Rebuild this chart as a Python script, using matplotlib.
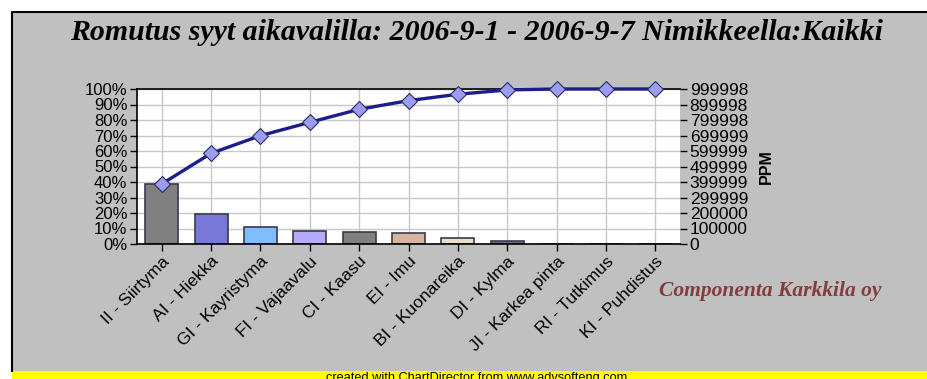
import matplotlib
matplotlib.use("Agg")
import matplotlib.pyplot as plt
from matplotlib.patches import Rectangle
import numpy as np

# data
categories = ["II - Siirtyma", "AI - Hiekka", "GI - Kayristyma", "FI - Vajaavalu",
              "CI - Kaasu", "EI - Imu", "BI - Kuonareika", "DI - Kylma",
              "JI - Karkea pinta", "RI - Tutkimus", "KI - Puhdistus"]
share_pct = [38.7, 19.5, 10.8, 8.6, 7.6, 6.8, 3.8, 1.8, 0, 0, 0]
cumulative_pct = [38.7, 58.5, 69.9, 78.5, 86.9, 92.5, 96.6, 99.4, 100, 100, 100]
bar_colors = ["#808080", "#7878d8", "#80bcff", "#b4aaff", "#808080",
              "#d6b49e", "#ecdccc", "#646c9c", "#808080", "#7878d8", "#80bcff"]
left_ticks = [0, 10, 20, 30, 40, 50, 60, 70, 80, 90, 100]
ppm_labels = ["0", "100000", "200000", "299999", "399999", "499999",
              "599999", "699999", "799998", "899998", "999998"]

W, H = 928, 379
fig = plt.figure(figsize=(W / 100, H / 100), dpi=100)
fig.patch.set_facecolor("#c0c0c0")

# white margins top/left, black border lines, yellow footer strip
bg = fig.add_axes([0, 0, 1, 1])
bg.set_xlim(0, W)
bg.set_ylim(H, 0)
bg.axis("off")
bg.add_patch(Rectangle((-5, -5), W + 20, 16, facecolor="white", edgecolor="none"))
bg.add_patch(Rectangle((-5, -5), 17, H + 20, facecolor="white", edgecolor="none"))
bg.plot([12.5, 12.5, W + 20], [371, 11.5, 11.5], color="black", lw=1.5)
bg.add_patch(Rectangle((12, 371), W + 20, 10, facecolor="#ffff00", edgecolor="none"))
bg.text(477, 372, "created with ChartDirector from www.advsofteng.com", ha="center",
        va="top", fontsize=9.2, family="Liberation Sans", color="black")
bg.text(476, 32, "Romutus syyt aikavalilla: 2006-9-1 - 2006-9-7 Nimikkeella:Kaikki",
        ha="center", va="center", fontsize=21.5, family="Liberation Serif",
        style="italic", weight="bold")
bg.text(770, 291, "Componenta Karkkila oy", ha="center", va="center", fontsize=15.5,
        family="Liberation Serif", style="italic", weight="bold", color="#853c3c")

ax = fig.add_axes([137 / W, 1 - 244 / H, 543 / W, 155 / H])
ax.set_facecolor("white")
x = np.arange(len(categories))
ax.bar(x, share_pct, width=0.67, color=bar_colors, edgecolor="#3a3a4a", linewidth=1.2, zorder=2)
ax.plot(x, cumulative_pct, color="#1c1c8c", lw=2.4, marker="D", markersize=8,
        markerfacecolor="#9c9cf0", markeredgecolor="#2a2a6a", markeredgewidth=0.8,
        zorder=4, clip_on=False)
ax.set_xlim(-0.5, len(categories) - 0.5)
ax.set_ylim(0, 100)
ax.set_yticks(left_ticks)
ax.set_yticklabels([f"{v}%" for v in left_ticks], family="Liberation Sans", fontsize=12)
ax.set_xticks(x)
ax.set_xticklabels(categories, rotation=45, ha="right", rotation_mode="anchor",
                   family="Liberation Sans", fontsize=12.5, color="#202020")
ax.grid(True, color="#c8c8c8", lw=1, zorder=0)
ax.set_axisbelow(True)
ax.tick_params(axis="both", length=5, width=1, pad=2, colors="black")
for side in ["left", "bottom", "top"]:
    ax.spines[side].set_color("black")
    ax.spines[side].set_linewidth(1.2)
ax.spines["right"].set_visible(False)

ax2 = ax.twinx()
ax2.set_ylim(0, 100)
ax2.set_yticks(left_ticks)
ax2.set_yticklabels(ppm_labels, family="Liberation Sans", fontsize=12.5)
ax2.tick_params(axis="y", length=5, width=1, pad=2)
for side in ["left", "bottom", "top", "right"]:
    ax2.spines[side].set_visible(False)
ax2.set_ylabel("PPM", family="Liberation Sans", fontsize=11.5, weight="bold", labelpad=8)

fig.savefig("out.png", dpi=100)
